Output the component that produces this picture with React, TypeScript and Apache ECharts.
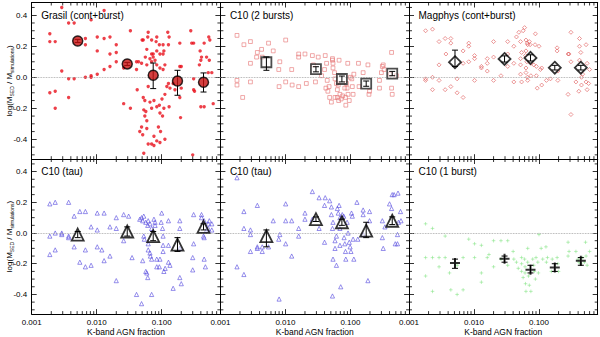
import React, { useEffect, useRef } from "react";
import * as echarts from "echarts";

// ---------- data ----------
const panelTitles = [
  "Grasil (cont+burst)",
  "C10 (2 bursts)",
  "Magphys (cont+burst)",
  "C10 (tau)",
  "C10 (tau)",
  "C10 (1 burst)",
];
const xTickLabels = ["0.001", "0.010", "0.100"];
const yTickLabels = ["-0.4", "-0.2", "0.0", "0.2", "0.4"];
const xAxisTitle = "K-band AGN fraction";

const X_MIN = 0.001;
const X_MAX = 0.8;
const Y_MIN = -0.528;
const Y_MAX = 0.482;

const xMajorTicks = xTickLabels.map((s) => parseFloat(s));
const yMajorTicks = yTickLabels.map((s) => parseFloat(s));
const xMinorTicks = [
  0.002, 0.003, 0.004, 0.005, 0.006, 0.007, 0.008, 0.009,
  0.02, 0.03, 0.04, 0.05, 0.06, 0.07, 0.08, 0.09,
  0.2, 0.3, 0.4, 0.5, 0.6, 0.7,
];
const yMinorTicks = [-0.5, -0.45, -0.35, -0.3, -0.25, -0.15, -0.1, -0.05, 0.05, 0.1, 0.15, 0.25, 0.3, 0.35, 0.45];

// median bins (AGN fraction)
const binFrac = [0.0051, 0.0295, 0.074, 0.175, 0.44];

// Grasil (cont+burst)
const grasilMed = [0.234, 0.086, 0.013, -0.024, -0.032];
const grasilLo = [0.224, 0.076, -0.073, -0.116, -0.095];
const grasilHi = [0.244, 0.096, 0.092, 0.045, 0.028];
const grasilPts = [
  [0.0019, 0.28], [0.0019, 0.23], [0.0023, 0.23], [0.0029, 0.45], [0.0037, 0.35], [0.0045, 0.35], [0.0082, 0.37], [0.013, 0.43],
  [0.0019, -0.10], [0.0023, -0.09], [0.0023, -0.20], [0.0029, 0.04], [0.0037, -0.01], [0.0037, -0.13], [0.0045, -0.01],
  [0.0067, 0.25], [0.0067, 0.21], [0.0067, 0.0], [0.0082, 0.0], [0.0082, 0.01], [0.0102, 0.26], [0.0102, 0.17], [0.0102, 0.02],
  [0.013, 0.25], [0.013, 0.05], [0.016, 0.26], [0.016, 0.15], [0.016, 0.07], [0.020, 0.21], [0.020, 0.16], [0.020, 0.10],
  [0.026, -0.17], [0.026, 0.06], [0.033, 0.30], [0.033, -0.20], [0.041, 0.10], [0.041, 0.05], [0.042, -0.08], [0.050, 0.24],
  [0.044, 0.10], [0.049, 0.09], [0.059, 0.08], [0.070, 0.10], [0.079, 0.11], [0.084, 0.08], [0.094, 0.06], [0.105, 0.05], [0.112, 0.08],
  [0.059, 0.18], [0.070, 0.15], [0.074, 0.15], [0.084, 0.17], [0.094, 0.15], [0.105, 0.15], [0.056, 0.13], [0.066, 0.12], [0.074, 0.13],
  [0.105, 0.21], [0.108, 0.17], [0.127, 0.21], [0.124, 0.29], [0.13, 0.26], [0.062, 0.29], [0.061, 0.26], [0.052, 0.24], [0.070, 0.24],
  [0.084, 0.26], [0.082, 0.23], [0.092, 0.21], [0.062, -0.06], [0.052, -0.13], [0.055, -0.15], [0.066, -0.16], [0.057, -0.22],
  [0.053, -0.21], [0.055, -0.25], [0.059, -0.28], [0.049, -0.32], [0.046, -0.35], [0.051, -0.37], [0.076, -0.15], [0.084, -0.19],
  [0.070, -0.20], [0.076, -0.38], [0.070, -0.43], [0.084, -0.41], [0.062, -0.43], [0.053, -0.49], [0.059, -0.33], [0.089, -0.32],
  [0.096, -0.35], [0.076, -0.44], [0.094, -0.23], [0.103, -0.25], [0.108, -0.20], [0.092, -0.18], [0.101, -0.14], [0.112, -0.11],
  [0.12, -0.06], [0.127, -0.04], [0.13, -0.19], [0.134, -0.07], [0.15, -0.04], [0.16, -0.08], [0.112, -0.40], [0.094, -0.42],
  [0.19, -0.13], [0.20, -0.07], [0.20, 0.07], [0.19, 0.07], [0.19, 0.22], [0.195, -0.26], [0.28, 0.30], [0.29, 0.22], [0.31, 0.22],
  [0.31, -0.01], [0.31, -0.08], [0.32, -0.09], [0.30, -0.50], [0.39, 0.17], [0.41, 0.13], [0.40, 0.11], [0.38, 0.08], [0.40, -0.19],
  [0.45, -0.19], [0.49, 0.13], [0.52, 0.03], [0.53, 0.26], [0.45, 0.22], [0.59, 0.03], [0.62, -0.17], [0.54, 0.11], [0.55, 0.24],
];

// C10 (2 bursts)
const c10twoMed = [0.097, 0.052, -0.011, -0.041, 0.024];
const c10twoLo = [0.045, 0.035, -0.03, -0.058, 0.01];
const c10twoHi = [0.131, 0.068, 0.008, -0.024, 0.038];
const c10twoPts = [
  [0.0018, 0.27], [0.0023, 0.21], [0.0029, 0.23], [0.0018, -0.02], [0.0018, -0.05], [0.0029, -0.03], [0.0022, -0.13], [0.0029, 0.09],
  [0.0037, 0.16], [0.0036, 0.13], [0.0044, 0.13], [0.0043, 0.18], [0.0055, 0.22], [0.0065, 0.17], [0.0082, 0.10], [0.0079, 0.05],
  [0.0080, -0.06], [0.0101, 0.24], [0.0101, -0.03], [0.0125, 0.05], [0.0127, -0.05], [0.016, 0.15], [0.016, 0.13], [0.016, -0.06],
  [0.020, 0.15], [0.021, -0.04], [0.026, 0.14], [0.027, 0.08], [0.029, -0.03], [0.032, 0.13], [0.036, 0.01], [0.041, 0.14],
  [0.043, 0.09], [0.040, 0.05], [0.044, -0.02], [0.042, -0.07], [0.045, -0.09], [0.048, -0.13], [0.051, -0.16], [0.053, 0.12],
  [0.054, 0.09], [0.054, 0.06], [0.057, 0.03], [0.058, -0.01], [0.061, -0.04], [0.065, -0.05], [0.063, -0.08], [0.063, -0.13],
  [0.067, 0.11], [0.069, -0.11], [0.072, -0.14], [0.084, -0.13], [0.085, -0.18], [0.082, -0.07], [0.087, -0.04], [0.091, 0.09],
  [0.089, -0.07], [0.092, -0.11], [0.096, -0.15], [0.100, 0.0], [0.105, -0.01], [0.107, -0.06], [0.110, -0.11], [0.113, 0.02],
  [0.133, 0.09], [0.136, -0.06], [0.157, 0.03], [0.186, 0.08], [0.193, -0.11], [0.197, -0.09], [0.28, -0.02], [0.28, -0.07],
  [0.30, 0.03], [0.31, 0.07], [0.32, 0.08], [0.33, 0.05], [0.43, 0.16], [0.43, -0.07], [0.44, -0.11], [0.41, 0.02], [0.51, 0.01],
  [0.047, -0.06], [0.058, -0.13], [0.066, -0.15], [0.076, -0.12], [0.053, 0.11],
];

// Magphys (cont+burst)
const magphysMed = [0.097, 0.118, 0.125, 0.062, 0.062];
const magphysLo = [0.07, 0.098, 0.105, 0.047, 0.047];
const magphysHi = [0.175, 0.138, 0.145, 0.077, 0.077];
const magphysPts = [
  [0.0018, 0.30], [0.0023, 0.31], [0.0029, 0.23], [0.0036, 0.25], [0.0044, 0.25], [0.0044, 0.22], [0.0037, 0.15], [0.0029, 0.08],
  [0.0018, -0.01], [0.0018, -0.02], [0.0023, 0.0], [0.0023, -0.08], [0.0029, -0.02], [0.0036, -0.08], [0.0044, -0.06], [0.0055, -0.01],
  [0.0055, -0.10], [0.0068, -0.13], [0.0068, 0.17], [0.0068, 0.09], [0.0083, 0.22], [0.0083, 0.20], [0.0083, 0.10], [0.0102, 0.14],
  [0.0102, 0.12], [0.0102, -0.02], [0.013, 0.07], [0.013, 0.06], [0.016, 0.09], [0.016, 0.04], [0.016, 0.12], [0.020, 0.23],
  [0.020, 0.13], [0.020, -0.02], [0.026, 0.01], [0.033, 0.23], [0.033, 0.15], [0.033, 0.07], [0.041, 0.20], [0.041, 0.09],
  [0.041, -0.03], [0.045, 0.26], [0.049, 0.29], [0.052, 0.23], [0.054, 0.16], [0.052, 0.12], [0.052, 0.08], [0.052, 0.02],
  [0.054, -0.03], [0.057, 0.30], [0.060, 0.32], [0.063, 0.24], [0.066, 0.22], [0.067, 0.21], [0.071, 0.23], [0.073, 0.21],
  [0.063, 0.17], [0.062, 0.14], [0.065, 0.10], [0.063, 0.06], [0.063, 0.03], [0.066, 0.0], [0.067, -0.02], [0.075, 0.01],
  [0.075, 0.09], [0.083, 0.08], [0.091, 0.07], [0.091, 0.01], [0.088, 0.28], [0.087, 0.21], [0.094, -0.07], [0.100, 0.20],
  [0.105, 0.05], [0.11, 0.06], [0.11, -0.05], [0.13, -0.02], [0.15, -0.01], [0.19, 0.19], [0.19, 0.17], [0.195, 0.04],
  [0.195, -0.02], [0.28, 0.15], [0.29, 0.15], [0.28, -0.11], [0.31, 0.29], [0.31, -0.24], [0.31, 0.10], [0.41, -0.09],
  [0.42, 0.25], [0.42, 0.20], [0.44, 0.16], [0.45, 0.0], [0.45, -0.05], [0.47, 0.02], [0.53, 0.21], [0.55, 0.09],
  [0.53, -0.03], [0.55, -0.08], [0.60, 0.05], [0.58, -0.04], [0.42, 0.11], [0.37, -0.03],
];

// C10 (tau), first fit
const tauAMed = [-0.01, 0.01, -0.02, -0.075, 0.04];
const tauALo = [-0.03, -0.02, -0.05, -0.12, 0.02];
const tauAHi = [0.01, 0.04, 0.01, -0.03, 0.06];
const tauAPts = [
  [0.0019, 0.19], [0.0023, 0.20], [0.0037, 0.20], [0.0019, -0.02], [0.0019, -0.14], [0.0023, 0.0], [0.0023, -0.11], [0.0029, 0.0],
  [0.0029, -0.01], [0.0037, -0.03], [0.0037, -0.02], [0.0045, 0.11], [0.0045, -0.09], [0.0055, 0.14], [0.0055, -0.19], [0.0067, 0.14],
  [0.0067, -0.22], [0.0067, -0.11], [0.0082, 0.04], [0.0082, -0.21], [0.0102, 0.13], [0.0102, 0.02], [0.0102, -0.09], [0.012, -0.11],
  [0.013, 0.13], [0.013, -0.18], [0.016, -0.15], [0.016, 0.04], [0.020, 0.10], [0.020, -0.31], [0.020, 0.03], [0.026, 0.12],
  [0.026, -0.05], [0.031, 0.11], [0.035, -0.16], [0.041, -0.40], [0.049, -0.46], [0.046, 0.09], [0.049, 0.10], [0.051, 0.08],
  [0.053, 0.11], [0.057, 0.07], [0.061, 0.05], [0.053, -0.02], [0.054, -0.04], [0.051, -0.18], [0.057, -0.25], [0.059, -0.26],
  [0.061, -0.29], [0.062, -0.07], [0.062, -0.11], [0.066, -0.13], [0.067, -0.15], [0.070, -0.17], [0.070, -0.40], [0.062, 0.08],
  [0.066, 0.06], [0.070, 0.03], [0.076, 0.09], [0.079, 0.07], [0.079, 0.05], [0.084, -0.17], [0.084, -0.22], [0.094, -0.17],
  [0.092, -0.22], [0.10, 0.13], [0.098, 0.07], [0.103, 0.03], [0.105, -0.02], [0.105, -0.08], [0.105, -0.12], [0.108, -0.25],
  [0.113, -0.23], [0.127, 0.08], [0.127, -0.08], [0.127, -0.19], [0.134, -0.21], [0.15, -0.36], [0.19, 0.08], [0.19, 0.03],
  [0.19, -0.29], [0.20, -0.33], [0.19, -0.10], [0.30, -0.16], [0.30, -0.24], [0.31, 0.12], [0.31, -0.07], [0.41, 0.10],
  [0.45, -0.03], [0.45, -0.17], [0.47, -0.22], [0.52, 0.06], [0.49, 0.02], [0.41, 0.12], [0.45, 0.08], [0.54, 0.08],
  [0.59, 0.06], [0.52, 0.03], [0.59, 0.02], [0.44, -0.02],
];

// C10 (tau), second fit
const tauBMed = [-0.02, 0.09, 0.07, 0.015, 0.08];
const tauBLo = [-0.09, 0.075, 0.05, -0.03, 0.055];
const tauBHi = [0.02, 0.105, 0.09, 0.07, 0.105];
const tauBPts = [
  [0.0018, 0.36], [0.0018, -0.22], [0.0023, -0.27], [0.0023, 0.14], [0.0023, 0.03], [0.0029, 0.02], [0.0029, -0.01], [0.0029, -0.12],
  [0.0037, 0.18], [0.0037, -0.09], [0.0037, -0.10], [0.0044, -0.12], [0.0044, -0.09], [0.0055, -0.09], [0.0065, 0.08], [0.0082, -0.01],
  [0.0079, -0.04], [0.0080, -0.43], [0.0101, 0.19], [0.0101, 0.08], [0.0101, -0.07], [0.0125, 0.08], [0.0125, -0.15], [0.016, 0.03],
  [0.016, -0.02], [0.020, 0.13], [0.020, 0.09], [0.026, 0.27], [0.026, 0.09], [0.033, 0.23], [0.033, 0.03], [0.040, 0.18],
  [0.040, -0.06], [0.041, 0.23], [0.048, 0.21], [0.051, 0.17], [0.051, 0.12], [0.054, 0.07], [0.053, 0.03], [0.053, -0.41],
  [0.054, -0.17], [0.058, -0.05], [0.058, -0.10], [0.061, -0.02], [0.061, -0.21], [0.063, 0.16], [0.065, 0.13], [0.067, 0.18],
  [0.069, 0.10], [0.069, 0.03], [0.069, -0.08], [0.071, -0.35], [0.075, 0.12], [0.079, 0.11], [0.080, -0.03], [0.082, -0.07],
  [0.084, -0.12], [0.085, -0.17], [0.089, 0.07], [0.092, 0.0], [0.096, -0.06], [0.099, -0.09], [0.102, -0.12], [0.104, 0.13],
  [0.107, 0.11], [0.11, -0.04], [0.113, -0.17], [0.126, 0.20], [0.13, -0.04], [0.157, 0.15], [0.157, 0.12], [0.157, -0.01],
  [0.186, -0.31], [0.197, 0.14], [0.197, 0.08], [0.31, 0.08], [0.31, -0.03], [0.32, -0.10], [0.34, 0.04], [0.40, 0.19],
  [0.44, 0.25], [0.47, 0.25], [0.43, 0.16], [0.49, -0.07], [0.53, -0.01], [0.54, 0.26], [0.59, 0.14], [0.55, 0.07],
  [0.53, -0.07], [0.60, 0.08],
];

// C10 (1 burst)
const oneBurstMed = [-0.196, -0.168, -0.24, -0.225, -0.18];
const oneBurstLo = [-0.23, -0.19, -0.26, -0.25, -0.21];
const oneBurstHi = [-0.17, -0.15, -0.21, -0.2, -0.16];
const oneBurstPts = [
  [0.0018, 0.06], [0.0018, -0.16], [0.0018, -0.28], [0.0023, -0.16], [0.0023, -0.38], [0.0023, 0.03], [0.0029, -0.16], [0.0029, -0.22],
  [0.0036, -0.02], [0.0036, -0.16], [0.0042, -0.26], [0.0044, -0.37], [0.0055, -0.40], [0.0055, -0.21], [0.0068, -0.16], [0.0068, -0.37],
  [0.0083, -0.04], [0.0102, -0.16], [0.0102, -0.07], [0.013, -0.08], [0.013, -0.26], [0.013, -0.32], [0.016, -0.16], [0.017, -0.14],
  [0.020, -0.05], [0.020, -0.22], [0.026, -0.05], [0.026, -0.17], [0.033, -0.05], [0.033, -0.21], [0.040, -0.12], [0.041, -0.17],
  [0.045, -0.19], [0.048, -0.23], [0.054, -0.16], [0.054, -0.20], [0.054, -0.25], [0.057, -0.29], [0.060, -0.17], [0.061, -0.22],
  [0.061, -0.26], [0.062, -0.33], [0.063, -0.38], [0.067, -0.10], [0.067, -0.19], [0.069, -0.28], [0.071, -0.34], [0.075, -0.38],
  [0.080, -0.17], [0.083, -0.21], [0.085, -0.25], [0.088, -0.30], [0.090, -0.16], [0.096, -0.19], [0.10, -0.01], [0.098, -0.26],
  [0.108, -0.10], [0.114, -0.17], [0.128, -0.09], [0.13, -0.19], [0.135, -0.16], [0.155, -0.25], [0.160, -0.17], [0.190, -0.16],
  [0.195, -0.20], [0.2, -0.25], [0.28, -0.06], [0.28, -0.15], [0.29, -0.12], [0.37, -0.12], [0.40, -0.17], [0.41, -0.19],
  [0.44, -0.20], [0.47, -0.16], [0.5, -0.19], [0.53, -0.15], [0.55, -0.21], [0.60, -0.12], [0.52, -0.06],
];

// ---------- layout & styles ----------
const FONT = "Liberation Sans, Arial, Helvetica, sans-serif";
const GRID_LEFT = [31.7, 220.4, 409.0];
const GRID_W = 188.7;
const GRID_TOP = [2.5, 159];
const GRID_H = 156.7;

const PLUS = "path://M0,5L10,5M5,0L5,10";

type PanelDef = {
  pts: number[][];
  med: number[];
  lo: number[];
  hi: number[];
  small: any;
  big: any;
  errOnTop: boolean;
};

const panels: PanelDef[] = [
  {
    pts: grasilPts, med: grasilMed, lo: grasilLo, hi: grasilHi,
    small: { symbol: "circle", symbolSize: 3.4, itemStyle: { color: "#e8101c" } },
    big: { symbol: "circle", symbolSize: 10, itemStyle: { color: "#c81010", borderColor: "#000", borderWidth: 1.5 } },
    errOnTop: false,
  },
  {
    pts: c10twoPts, med: c10twoMed, lo: c10twoLo, hi: c10twoHi,
    small: { symbol: "rect", symbolSize: 3.8, itemStyle: { color: "transparent", borderColor: "#e87878", borderWidth: 0.8 } },
    big: { symbol: "rect", symbolSize: 10, itemStyle: { color: "rgba(255,255,255,0.6)", borderColor: "#222", borderWidth: 1.8 } },
    errOnTop: true,
  },
  {
    pts: magphysPts, med: magphysMed, lo: magphysLo, hi: magphysHi,
    small: { symbol: "diamond", symbolSize: 4, itemStyle: { color: "transparent", borderColor: "#e05a5a", borderWidth: 0.8 } },
    big: { symbol: "diamond", symbolSize: 12, itemStyle: { color: "rgba(255,255,255,0.85)", borderColor: "#000", borderWidth: 1.8 } },
    errOnTop: true,
  },
  {
    pts: tauAPts, med: tauAMed, lo: tauALo, hi: tauAHi,
    small: { symbol: "triangle", symbolSize: 4.2, itemStyle: { color: "transparent", borderColor: "#5a4ee0", borderWidth: 0.8 } },
    big: { symbol: "triangle", symbolSize: 12, itemStyle: { color: "rgba(255,255,255,0.6)", borderColor: "#000", borderWidth: 1.8 } },
    errOnTop: true,
  },
  {
    pts: tauBPts, med: tauBMed, lo: tauBLo, hi: tauBHi,
    small: { symbol: "triangle", symbolSize: 4.2, itemStyle: { color: "transparent", borderColor: "#5a4ee0", borderWidth: 0.8 } },
    big: { symbol: "triangle", symbolSize: 12, itemStyle: { color: "rgba(255,255,255,0.6)", borderColor: "#000", borderWidth: 1.8 } },
    errOnTop: true,
  },
  {
    pts: oneBurstPts, med: oneBurstMed, lo: oneBurstLo, hi: oneBurstHi,
    small: { symbol: PLUS, symbolSize: 3.6, itemStyle: { color: "transparent", borderColor: "#84e484", borderWidth: 0.7 } },
    big: { symbol: PLUS, symbolSize: 10, itemStyle: { color: "transparent", borderColor: "#000", borderWidth: 2 } },
    errOnTop: true,
  },
];

function labelFor(list: string[], v: number) {
  const hit = list.find((l) => Math.abs(parseFloat(l) - v) < 1e-9);
  return hit ?? "";
}

function errRender(_p: any, api: any) {
  const x = api.value(0);
  const a = api.coord([x, api.value(1)]);
  const b = api.coord([x, api.value(2)]);
  const w = 3;
  const st = { stroke: "#000", lineWidth: 1 };
  return {
    type: "group",
    children: [
      { type: "line", shape: { x1: a[0], y1: a[1], x2: b[0], y2: b[1] }, style: st },
      { type: "line", shape: { x1: a[0] - w, y1: a[1], x2: a[0] + w, y2: a[1] }, style: st },
      { type: "line", shape: { x1: b[0] - w, y1: b[1], x2: b[0] + w, y2: b[1] }, style: st },
    ],
  };
}

function tickRender(_p: any, api: any) {
  const p = api.coord([api.value(0), api.value(1)]);
  return {
    type: "line",
    shape: { x1: p[0], y1: p[1], x2: p[0] + api.value(2), y2: p[1] + api.value(3) },
    style: { stroke: "#000", lineWidth: 0.8 },
  };
}

function yLabelRender(params: any, api: any) {
  const p = api.coord([api.value(0), api.value(1)]);
  return {
    type: "text",
    x: p[0] - 4.5,
    y: p[1],
    style: {
      text: yTickLabels[params.dataIndex],
      fill: "#000",
      fontSize: 8,
      fontFamily: FONT,
      align: "right",
      verticalAlign: "middle",
    },
  };
}

function buildOption() {
  const grid: any[] = [];
  const xAxis: any[] = [];
  const yAxis: any[] = [];
  const series: any[] = [];
  const title: any[] = [];

  const minorData: number[][] = [];
  xMinorTicks.forEach((v) => {
    minorData.push([v, Y_MIN, 0, -3]);
    minorData.push([v, Y_MAX, 0, 3]);
  });
  yMinorTicks.forEach((v) => {
    minorData.push([X_MIN, v, 3, 0]);
    minorData.push([X_MAX, v, -3, 0]);
  });

  panels.forEach((pd, i) => {
    const row = Math.floor(i / 3);
    const col = i % 3;
    grid.push({ left: GRID_LEFT[col], top: GRID_TOP[row], width: GRID_W, height: GRID_H, containLabel: false });

    const axisLine = { show: true, onZero: false, lineStyle: { color: "#000", width: 1 } };
    const xTick = { show: true, inside: true, length: 5, customValues: xMajorTicks, lineStyle: { color: "#000", width: 0.8 } };
    const yTick = { show: true, inside: true, length: 5, customValues: yMajorTicks, lineStyle: { color: "#000", width: 0.8 } };
    const lblStyle = { fontSize: 8, color: "#000", fontFamily: FONT };

    xAxis.push({
      type: "log", logBase: 10, gridIndex: i, position: "bottom", min: X_MIN, max: X_MAX,
      axisLine, axisTick: xTick, splitLine: { show: false },
      axisLabel: {
        show: row === 1, margin: 4, ...lblStyle, customValues: xMajorTicks,
        showMinLabel: true, showMaxLabel: true, hideOverlap: false,
        formatter: (v: number) => labelFor(xTickLabels, v),
      },
      name: row === 1 ? xAxisTitle : "", nameLocation: "middle", nameGap: 12,
      nameTextStyle: { fontSize: 8.5, color: "#000", fontFamily: FONT },
    });
    xAxis.push({
      type: "log", logBase: 10, gridIndex: i, position: "top", min: X_MIN, max: X_MAX,
      axisLine, axisTick: xTick, splitLine: { show: false }, axisLabel: { show: false },
    });
    yAxis.push({
      type: "value", gridIndex: i, position: "left", min: Y_MIN, max: Y_MAX,
      axisLine, axisTick: yTick, splitLine: { show: false },
      axisLabel: { show: false },
      name: col === 0 ? "{n|log(M}{s|SED}{n| / M}{s|simulations}{n|)}" : "",
      nameLocation: "middle", nameRotate: 90, nameGap: 17,
      nameTextStyle: {
        color: "#000", fontFamily: FONT,
        rich: {
          n: { fontSize: 8, fontFamily: FONT, color: "#000", lineHeight: 10 },
          s: { fontSize: 5, fontFamily: FONT, color: "#000", lineHeight: 10, verticalAlign: "bottom", padding: [3, 0, 0, 0] },
        },
      },
    });
    yAxis.push({
      type: "value", gridIndex: i, position: "right", min: Y_MIN, max: Y_MAX,
      axisLine, axisTick: yTick, splitLine: { show: false }, axisLabel: { show: false },
    });

    title.push({
      text: panelTitles[i], left: GRID_LEFT[col] + 9.5, top: GRID_TOP[row] + 7.5, padding: 0,
      textStyle: { fontSize: 10, fontWeight: "normal", color: "#000", fontFamily: FONT },
    });

    const xa = i * 2;
    const ya = i * 2;

    series.push({
      type: "custom", xAxisIndex: xa, yAxisIndex: ya, renderItem: tickRender, data: minorData,
      encode: { x: 0, y: 1 }, silent: true, clip: false, z: 1,
    });

    if (col === 0) {
      series.push({
        type: "custom", xAxisIndex: xa, yAxisIndex: ya, renderItem: yLabelRender,
        data: yMajorTicks.map((v) => [X_MIN, v]),
        encode: { x: 0, y: 1 }, silent: true, clip: false, z: 1,
      });
    }

    series.push({
      type: "scatter", xAxisIndex: xa, yAxisIndex: ya, data: pd.pts, z: 2,
      ...pd.small,
      markLine: {
        silent: true, symbol: ["none", "none"], label: { show: false },
        lineStyle: { color: "#9a9a9a", type: "dotted", width: 0.8 },
        data: [{ yAxis: 0 }],
      },
    });

    const errData = binFrac.map((x, k) => [x, pd.lo[k], pd.hi[k]]);
    series.push({
      type: "custom", xAxisIndex: xa, yAxisIndex: ya, renderItem: errRender, data: errData,
      encode: { x: 0, y: [1, 2] }, silent: true, z: pd.errOnTop ? 6 : 4,
    });

    series.push({
      type: "scatter", xAxisIndex: xa, yAxisIndex: ya, z: 5,
      data: binFrac.map((x, k) => [x, pd.med[k]]),
      ...pd.big,
    });
  });

  return { animation: false, backgroundColor: "#fff", grid, xAxis, yAxis, series, title };
}

export default function App() {
  const ref = useRef<HTMLDivElement>(null);
  useEffect(() => {
    if (!ref.current) return;
    const chart = echarts.init(ref.current, undefined, { renderer: "svg" });
    chart.setOption(buildOption() as any);
    return () => chart.dispose();
  }, []);
  return (
    <div
      ref={ref}
      style={{ position: "fixed", left: 0, top: 0, width: 600, height: 337, background: "#fff" }}
    />
  );
}
